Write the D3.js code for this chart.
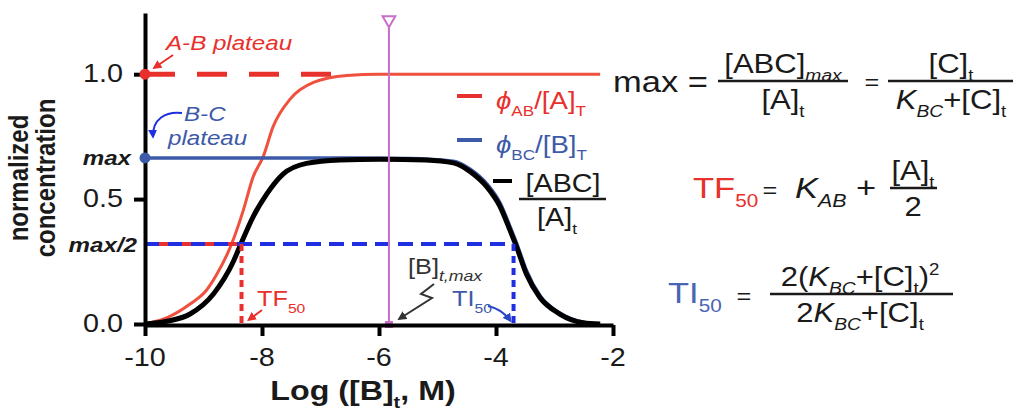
<!DOCTYPE html>
<html>
<head>
<meta charset="utf-8">
<script src="https://cdn.jsdelivr.net/npm/d3@7"></script>
<style>
  html, body { margin: 0; padding: 0; background: #fff; }
  svg { display: block; font-family: "Liberation Sans", Arial, sans-serif; }
</style>
</head>
<body>
<svg id="chart" width="1016" height="412"></svg>
<script>
// values
const logB_red = [-10, -9.91, -9.6, -9.23, -8.95, -8.77, -8.52, -8.32, -8.15, -7.98, -7.81, -7.52, -7.12, -6.55, -6.0, -2.22];
const red_vals = [0, 0.005, 0.028, 0.08, 0.135, 0.2, 0.32, 0.455, 0.59, 0.67, 0.79, 0.9, 0.967, 0.995, 1.0, 1.0];

const logB_black = [-10, -9.91, -9.6, -9.23, -8.83, -8.49, -8.38, -8.15, -7.92, -7.64, -7.24, -6.67, -5.98, -5.2, -4.73, -4.44, -4.16, -3.93, -3.76, -3.65, -3.48, -3.25, -2.91, -2.51, -2.22];
const black_vals = [0, 0.002, 0.012, 0.04, 0.12, 0.25, 0.31, 0.43, 0.52, 0.6, 0.643, 0.657, 0.66, 0.657, 0.645, 0.61, 0.55, 0.47, 0.375, 0.31, 0.2, 0.106, 0.04, 0.005, 0];

const logB_blue = [-10, -6.4, -5.5, -4.73, -4.44, -4.16, -3.93, -3.76, -3.65, -3.48, -3.25, -2.91, -2.51, -2.22];
const blue_vals = [0.665, 0.665, 0.663, 0.652, 0.62, 0.562, 0.484, 0.39, 0.325, 0.214, 0.114, 0.044, 0.007, 0];

const xTicks = [-10, -8, -6, -4, -2];
const yTicks = [0, 0.5, 1];
const yTickLabels = ["0.0", "0.5", "1.0"];

const maxLevel = 0.665;   // B-C plateau
const halfLevel = 0.32;   // max/2
const abPlateau = 1.0;
const abDashEnd = -6.55;
const tf50 = -8.35;
const ti50 = -3.7;
const bMax = -5.83;

const RED = "#e8302c", RED_CURVE = "#f0503e", BLUE = "#3d5aa8", BLUE_DASH = "#1f2ee0", PURPLE = "#c86fc6", INK = "#1a1a1a";
const SX = 1.15; // the picture is stretched sideways

const svg = d3.select("#chart");
const x = d3.scaleLinear().domain([-10, -2]).range([145, 613]);
const y = d3.scaleLinear().domain([0, 1.245]).range([324, 13]);

// markers
const defs = svg.append("defs");
[["arrRed", RED], ["arrBlue", BLUE_DASH], ["arrDark", "#333"], ["arrBlue2", "#2a46c8"]].forEach(([id, c]) => {
  defs.append("marker").attr("id", id).attr("viewBox", "0 0 10 10")
    .attr("refX", 8).attr("refY", 5).attr("markerWidth", 9).attr("markerHeight", 9)
    .attr("markerUnits", "userSpaceOnUse").attr("orient", "auto")
    .append("path").attr("d", "M0,0 L10,5 L0,10 z").attr("fill", c);
});

function rich(g, px, py, parts, o) {
  const t = g.append("text")
    .attr("transform", `translate(${px},${py}) scale(${SX},1)`)
    .attr("text-anchor", o.anchor || "start")
    .attr("font-size", o.size)
    .attr("font-weight", o.weight || "normal")
    .attr("font-style", o.style || "normal")
    .attr("fill", o.color || INK);
  let shift = 0;
  parts.forEach((p) => {
    const s = typeof p === "string" ? { t: p } : p;
    const target = s.sub ? 0.3 * o.size : s.sup ? -0.4 * o.size : 0;
    const ts = t.append("tspan").text(s.t).attr("dy", target - shift);
    shift = target;
    if (s.sub || s.sup) ts.attr("font-size", o.size * (s.k || 0.62));
    if (s.it) ts.attr("font-style", "italic");
    if (s.c) ts.attr("fill", s.c);
  });
  return t;
}

const line = d3.line().x((d) => x(d[0])).y((d) => y(d[1])).curve(d3.curveMonotoneX);

// reference dashes
const g = svg.append("g");
g.append("line").attr("x1", x(-10)).attr("x2", x(abDashEnd)).attr("y1", y(abPlateau)).attr("y2", y(abPlateau))
  .attr("stroke", RED).attr("stroke-width", 5).attr("stroke-dasharray", "30,22");

// curves
g.append("path").datum(d3.zip(logB_red, red_vals)).attr("d", line)
  .attr("fill", "none").attr("stroke", RED_CURVE).attr("stroke-width", 3);
g.append("path").datum(d3.zip(logB_blue, blue_vals)).attr("d", line)
  .attr("fill", "none").attr("stroke", BLUE).attr("stroke-width", 3.5);
g.append("path").datum(d3.zip(logB_black, black_vals)).attr("d", line)
  .attr("fill", "none").attr("stroke", "#000").attr("stroke-width", 5);

// half-max guides
g.append("line").attr("x1", x(-10)).attr("x2", x(ti50)).attr("y1", y(halfLevel)).attr("y2", y(halfLevel))
  .attr("stroke", BLUE_DASH).attr("stroke-width", 4).attr("stroke-dasharray", "15,8");
g.append("line").attr("x1", x(-10)).attr("x2", x(tf50)).attr("y1", y(halfLevel)).attr("y2", y(halfLevel))
  .attr("stroke", RED).attr("stroke-width", 4).attr("stroke-dasharray", "9,14").attr("stroke-dashoffset", -14);
g.append("line").attr("x1", x(tf50)).attr("x2", x(tf50)).attr("y1", y(halfLevel)).attr("y2", y(0))
  .attr("stroke", RED).attr("stroke-width", 4).attr("stroke-dasharray", "7,5");
g.append("line").attr("x1", x(ti50)).attr("x2", x(ti50)).attr("y1", y(halfLevel)).attr("y2", y(0))
  .attr("stroke", BLUE_DASH).attr("stroke-width", 4).attr("stroke-dasharray", "7,5");

// [B]t,max marker line
g.append("line").attr("x1", x(bMax)).attr("x2", x(bMax)).attr("y1", 16).attr("y2", y(0))
  .attr("stroke", PURPLE).attr("stroke-width", 2);
g.append("path").attr("d", d3.symbol(d3.symbolTriangle, 70)).attr("transform", `translate(${x(bMax)},${20}) rotate(180)`)
  .attr("fill", "#fff").attr("stroke", PURPLE).attr("stroke-width", 2);
g.append("rect").attr("x", x(bMax) - 4).attr("y", y(0) - 3).attr("width", 8).attr("height", 7).attr("fill", PURPLE);

// axes
const xAxis = svg.append("g").attr("transform", `translate(0,${y(0) + 1})`)
  .call(d3.axisBottom(x).tickValues(xTicks).tickSize(11).tickSizeOuter(0).tickFormat(""));
const yAxis = svg.append("g").attr("transform", `translate(${x(-10)},0)`)
  .call(d3.axisLeft(y).tickValues(yTicks).tickSize(11).tickSizeOuter(0).tickFormat(""));
[xAxis, yAxis].forEach((a) => {
  a.selectAll("path, line").attr("stroke", "#000").attr("stroke-width", 4);
});

xTicks.forEach((v) => rich(svg, x(v), 366, [String(v)], { size: 25, anchor: "middle" }));
yTicks.forEach((v, i) => rich(svg, 123, y(v) + 8, [yTickLabels[i]], { size: 25, anchor: "end" }));
rich(svg, 131, y(maxLevel) + 7, ["max"], { size: 21, anchor: "end", weight: "bold", style: "italic" });
rich(svg, 137, y(halfLevel) + 8, ["max/2"], { size: 21, anchor: "end", weight: "bold", style: "italic" });

// plateau dots
svg.append("circle").attr("cx", x(-10)).attr("cy", y(abPlateau)).attr("r", 5.5).attr("fill", RED);
svg.append("circle").attr("cx", x(-10)).attr("cy", y(maxLevel)).attr("r", 5.5).attr("fill", BLUE);

// axis titles
rich(svg, 363, 400, ["Log ([B]", { t: "t", sub: true }, ", M)"], { size: 28, anchor: "middle", weight: "bold" });
[["normalized", 28], ["concentration", 55]].forEach(([t, bx]) => {
  svg.append("text").attr("transform", `translate(${bx},178) scale(${SX},1) rotate(-90)`)
    .attr("text-anchor", "middle").attr("font-size", 24).attr("font-weight", "bold").attr("fill", INK).text(t);
});

// annotations
rich(svg, 166, 50, ["A-B plateau"], { size: 21, style: "italic", color: RED });
svg.append("path").attr("d", "M173,55 L154,68").attr("stroke", RED).attr("stroke-width", 2).attr("fill", "none").attr("marker-end", "url(#arrRed)");
rich(svg, 184, 121, ["B-C"], { size: 21, style: "italic", color: BLUE });
rich(svg, 168, 145, ["plateau"], { size: 21, style: "italic", color: BLUE });
svg.append("path").attr("d", "M182,113 C166,111 152,119 153,137").attr("stroke", BLUE_DASH).attr("stroke-width", 2).attr("fill", "none").attr("marker-end", "url(#arrBlue)");

rich(svg, 257, 306, ["TF", { t: "50", sub: true, k: 0.62 }], { size: 22, color: RED });
svg.append("path").attr("d", `M262,310 L${x(tf50) + 7},${y(0) - 4}`).attr("stroke", RED).attr("stroke-width", 2).attr("fill", "none").attr("marker-end", "url(#arrRed)");

rich(svg, 408, 274, ["[B]", { t: "t,max", sub: true, it: true, k: 0.7 }], { size: 22, color: "#333" });
svg.append("path").attr("d", `M434,284 L421,294 L432,298 L${x(bMax) + 10},${y(0) - 5}`).attr("stroke", "#333").attr("stroke-width", 2).attr("fill", "none").attr("marker-end", "url(#arrDark)");

rich(svg, 452, 306, ["TI", { t: "50", sub: true, k: 0.62 }], { size: 22, color: BLUE });
svg.append("path").attr("d", `M488,306 Q502,309 ${x(ti50) - 3},${y(0) - 3}`).attr("stroke", "#2a46c8").attr("stroke-width", 2).attr("fill", "none").attr("marker-end", "url(#arrBlue2)");

// legend
const leg = svg.append("g");
leg.append("line").attr("x1", 457).attr("x2", 482).attr("y1", 96).attr("y2", 96).attr("stroke", RED).attr("stroke-width", 4);
rich(leg, 496, 109, [{ t: "\u03d5", it: true }, { t: "AB", sub: true, k: 0.62 }, "/[A]", { t: "T", sub: true, k: 0.62 }], { size: 24, color: RED });
leg.append("line").attr("x1", 457).attr("x2", 482).attr("y1", 140).attr("y2", 140).attr("stroke", BLUE).attr("stroke-width", 4);
rich(leg, 496, 153, [{ t: "\u03d5", it: true }, { t: "BC", sub: true, k: 0.62 }, "/[B]", { t: "T", sub: true, k: 0.62 }], { size: 24, color: BLUE });
leg.append("line").attr("x1", 493).attr("x2", 512).attr("y1", 181).attr("y2", 181).attr("stroke", "#000").attr("stroke-width", 4);
rich(leg, 563, 192, ["[ABC]"], { size: 25, anchor: "middle" });
leg.append("line").attr("x1", 519).attr("x2", 606).attr("y1", 199).attr("y2", 199).attr("stroke", INK).attr("stroke-width", 2.5);
rich(leg, 557, 226, ["[A]", { t: "t", sub: true, k: 0.6 }], { size: 25, anchor: "middle" });

// equations
const eq = svg.append("g");
function frac(px, x1, x2, yb, num, den, o) {
  rich(eq, px, yb - 8, num, o);
  eq.append("line").attr("x1", x1).attr("x2", x2).attr("y1", yb).attr("y2", yb).attr("stroke", INK).attr("stroke-width", 2.5);
  rich(eq, px, yb + 28, den, o);
}
const eqStyle = { size: 27, anchor: "middle" };
rich(eq, 613, 92, ["max ="], { size: 30 });
frac(783, 718, 848, 81, ["[ABC]", { t: "max", sub: true, it: true, k: 0.62 }], ["[A]", { t: "t", sub: true, k: 0.6 }], eqStyle);
rich(eq, 872, 90, ["="], { size: 22, anchor: "middle" });
frac(951, 888, 1013, 81, ["[C]", { t: "t", sub: true, k: 0.6 }], [{ t: "K", it: true }, { t: "BC", sub: true, it: true, k: 0.62 }, "+[C]", { t: "t", sub: true, k: 0.6 }], eqStyle);

rich(eq, 693, 198, ["TF", { t: "50", sub: true, k: 0.6 }], { size: 30, color: RED });
rich(eq, 770, 198, ["="], { size: 22, anchor: "middle" });
rich(eq, 795, 198, [{ t: "K", it: true }, { t: "AB", sub: true, it: true, k: 0.62 }, "  +"], { size: 30 });
frac(913, 890, 937, 188, ["[A]", { t: "t", sub: true, k: 0.6 }], ["2"], eqStyle);

rich(eq, 668, 303, ["TI", { t: "50", sub: true, k: 0.6 }], { size: 30, color: "#4a64b4" });
rich(eq, 744, 304, ["="], { size: 22, anchor: "middle" });
frac(860, 770, 953, 294, ["2(", { t: "K", it: true }, { t: "BC", sub: true, it: true, k: 0.62 }, "+[C]", { t: "t", sub: true, k: 0.6 }, ")", { t: "2", sup: true, k: 0.6 }],
  ["2", { t: "K", it: true }, { t: "BC", sub: true, it: true, k: 0.62 }, "+[C]", { t: "t", sub: true, k: 0.6 }], eqStyle);
</script>
</body>
</html>
